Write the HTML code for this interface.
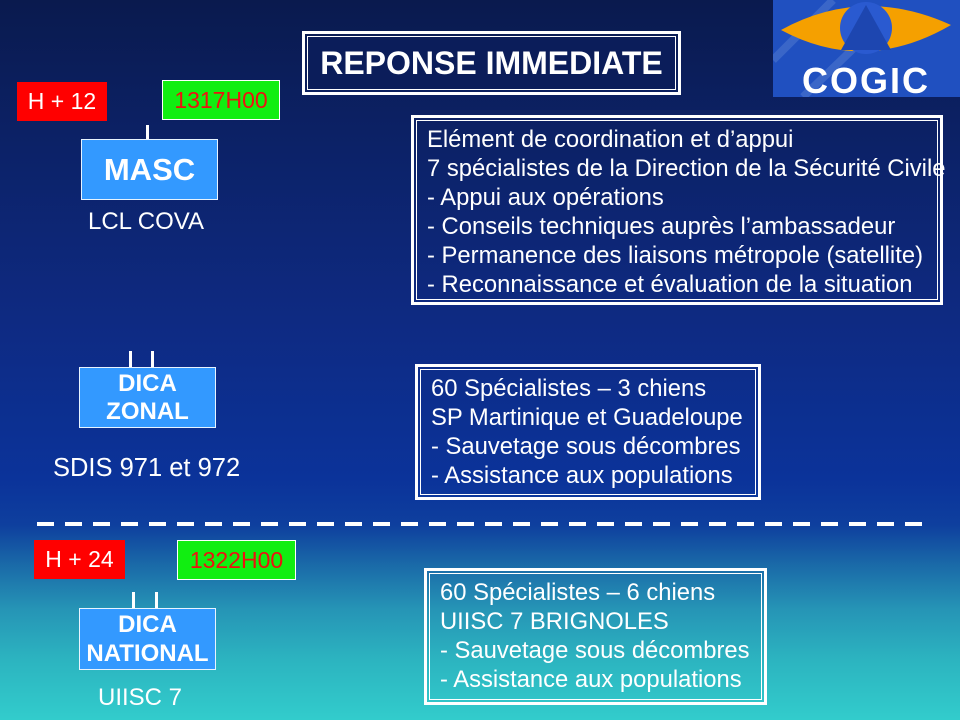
<!DOCTYPE html>
<html><head><meta charset="utf-8"><style>
*{margin:0;padding:0;box-sizing:border-box}
body{width:960px;height:720px;overflow:hidden;position:relative;font-family:"Liberation Sans",sans-serif;color:#fff;
background:linear-gradient(to bottom,#0a1a4e 0px,#0c2268 150px,#0e2a82 320px,#0b339a 480px,#0e3f9e 525px,#1a6aa8 565px,#2695b6 610px,#2cb4c0 660px,#32cccc 720px);}
.a{position:absolute;white-space:nowrap}
.red{background:#ff0000;color:#fff;font-size:23px;display:flex;align-items:center;justify-content:center}
.grn{background:#11ee11;color:#ee1111;font-size:23px;border:1px solid #fff;display:flex;align-items:center;justify-content:center}
.bl{background:#3399ff;border:1px solid #e8f4ff;font-weight:bold;text-align:center;display:flex;flex-direction:column;align-items:center;justify-content:center}
.tk{background:#fff;width:3px}
.dbl{border:3px solid #fff;padding:2px}
.dbl>div{border:1px solid #fff;width:100%;height:100%}
.tx{font-size:23.8px;line-height:29px}
</style></head><body>
<div class="a dbl" style="left:302px;top:31px;width:379px;height:64px"><div style="display:flex;align-items:center;justify-content:center;font-weight:bold;font-size:32px;background:#0b1d5a">REPONSE IMMEDIATE</div></div>

<svg class="a" style="left:773px;top:0" width="187" height="97" viewBox="0 0 187 97">
<rect width="187" height="97" fill="#2050c0"/>
<path d="M0 60 L60 0 M30 97 L110 20" stroke="#3a66c8" stroke-width="8"/>
<path d="M8 30 Q90 -15 178 25 Q92 75 8 30Z" fill="#f5a000"/>
<circle cx="93" cy="28" r="26" fill="#2a5ad0"/>
<path d="M93 5 L118 50 L68 50Z" fill="#1d46b0"/>
<text x="93" y="93" font-family="Liberation Sans" font-weight="bold" font-size="36" fill="#fff" text-anchor="middle" letter-spacing="2">COGIC</text>
</svg>

<div class="a red" style="left:17px;top:82px;width:90px;height:39px">H + 12</div>
<div class="a grn" style="left:162px;top:80px;width:118px;height:40px">1317H00</div>
<div class="a tk" style="left:146px;top:125px;height:14px"></div>
<div class="a bl" style="left:81px;top:139px;width:137px;height:61px;font-size:31px">MASC</div>
<div class="a" style="left:88px;top:208px;font-size:24px">LCL COVA</div>

<div class="a dbl" style="left:411px;top:115px;width:532px;height:190px"><div class="tx" style="padding:4px 0 0 10px">Elément de coordination et d’appui<br>7 spécialistes de la Direction de la Sécurité Civile<br>- Appui aux opérations<br>- Conseils techniques auprès l’ambassadeur<br>- Permanence des liaisons métropole (satellite)<br>- Reconnaissance et évaluation de la situation</div></div>

<div class="a tk" style="left:129px;top:351px;height:16px"></div>
<div class="a tk" style="left:151px;top:351px;height:16px"></div>
<div class="a bl" style="left:79px;top:367px;width:137px;height:61px;font-size:24px;line-height:28px">DICA<br>ZONAL</div>
<div class="a" style="left:53px;top:454px;font-size:25.5px">SDIS 971 et 972</div>

<div class="a dbl" style="left:415px;top:364px;width:346px;height:136px"><div class="tx" style="padding:4px 0 0 10px">60 Spécialistes – 3 chiens<br>SP Martinique et Guadeloupe<br>- Sauvetage sous décombres<br>- Assistance aux populations</div></div>

<svg class="a" style="left:0;top:520px" width="960" height="8"><line x1="37" y1="4" x2="925" y2="4" stroke="#fff" stroke-width="4" stroke-dasharray="17 11"/></svg>

<div class="a red" style="left:34px;top:540px;width:91px;height:39px">H + 24</div>
<div class="a grn" style="left:177px;top:540px;width:119px;height:40px">1322H00</div>
<div class="a tk" style="left:132px;top:592px;height:16px"></div>
<div class="a tk" style="left:155px;top:592px;height:16px"></div>
<div class="a bl" style="left:79px;top:608px;width:137px;height:62px;font-size:24px;line-height:29px">DICA<br>NATIONAL</div>
<div class="a" style="left:98px;top:684px;font-size:24px">UIISC 7</div>

<div class="a dbl" style="left:424px;top:568px;width:343px;height:137px"><div class="tx" style="padding:4px 0 0 10px">60 Spécialistes – 6 chiens<br>UIISC 7 BRIGNOLES<br>- Sauvetage sous décombres<br>- Assistance aux populations</div></div>
</body></html>
